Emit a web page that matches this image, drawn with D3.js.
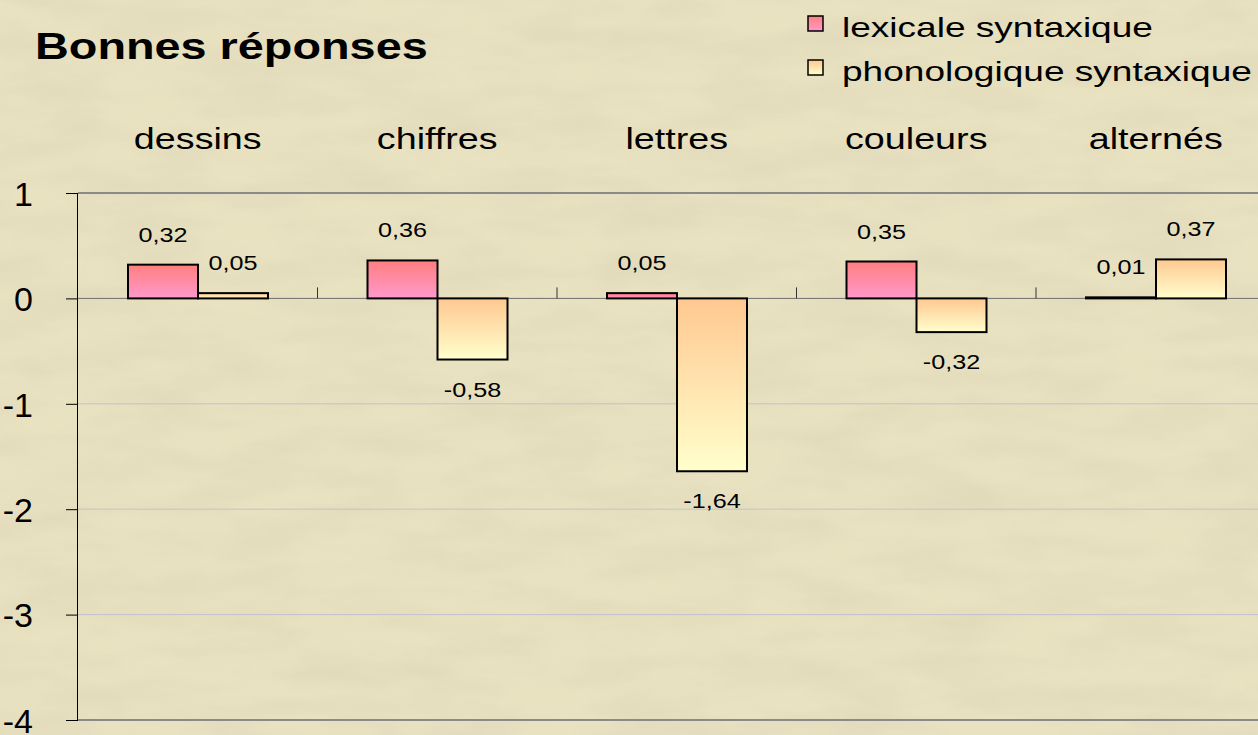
<!DOCTYPE html>
<html>
<head>
<meta charset="utf-8">
<script src="https://cdn.jsdelivr.net/npm/d3@7"></script>
<style>
  body { margin: 0; overflow: hidden; }
  svg { display: block; font-family: "Liberation Sans", Arial, sans-serif; }
</style>
</head>
<body>
<svg id="chart" width="1258" height="735"></svg>
<script>
'use strict';

// data
var categories = ['dessins', 'chiffres', 'lettres', 'couleurs', 'alternés'];
var seriesNames = ['lexicale syntaxique', 'phonologique syntaxique'];
var lexicale = [0.32, 0.36, 0.05, 0.35, 0.01];
var phonologique = [0.05, -0.58, -1.64, -0.32, 0.37];
var yTicks = [1, 0, -1, -2, -3, -4];

var svg = d3.select('#chart');
var W = 1258, H = 735;
var plotLeft = 78, plotTop = 193, plotBottom = 720;
var bandW = 239.5;
var stretchK = 1.3; // the slide is stretched sideways, text too

// move x/y into a transform so the text can be widened
function stretch(sel, k) {
  sel.each(function () {
    var t = d3.select(this);
    var tx = +t.attr('x') || 0, ty = +t.attr('y') || 0;
    t.attr('x', 0).attr('y', 0).attr('transform', 'translate(' + tx + ',' + ty + ') scale(' + k + ',1)');
  });
}

// background parchment
var defs = svg.append('defs');
var filt = defs.append('filter').attr('id', 'paper').attr('x', 0).attr('y', 0).attr('width', '100%').attr('height', '100%');
filt.append('feTurbulence').attr('type', 'fractalNoise').attr('baseFrequency', '0.01 0.035').attr('numOctaves', 4).attr('seed', 7).attr('result', 'n');
filt.append('feColorMatrix').attr('in', 'n').attr('type', 'matrix')
  .attr('values', '0 0 0 0 0.6  0 0 0 0 0.55  0 0 0 0 0.4  0 0 0 1.1 -0.35');
svg.append('rect').attr('width', W).attr('height', H).attr('fill', '#e9e2c1');
svg.append('rect').attr('width', W).attr('height', H).attr('filter', 'url(#paper)').attr('opacity', 0.4);

var gradients = [
  { id: 'gLex', top: '#ff7f7f', bottom: '#ff99cc' },
  { id: 'gPho', top: '#ffc891', bottom: '#ffffcc' }
];
gradients.forEach(function (g) {
  var lg = defs.append('linearGradient').attr('id', g.id).attr('x1', 0).attr('y1', 0).attr('x2', 0).attr('y2', 1);
  lg.append('stop').attr('offset', '0%').attr('stop-color', g.top);
  lg.append('stop').attr('offset', '100%').attr('stop-color', g.bottom);
});

var x = d3.scaleBand().domain(categories).range([plotLeft, plotLeft + bandW * categories.length]).paddingInner(0).paddingOuter(0);
var xs = d3.scaleBand().domain(seriesNames).range([50, bandW - 49.5]);
var y = d3.scaleLinear().domain([-4, 1]).range([plotBottom, plotTop]);

// gridlines
svg.append('g').selectAll('line').data(yTicks).enter().append('line')
  .attr('x1', plotLeft).attr('x2', W)
  .attr('y1', function (d) { return y(d); }).attr('y2', function (d) { return y(d); })
  .attr('stroke', function (d) { return (d === 1 || d === -4) ? '#8a8a8a' : (d === 0 ? '#6e6e6e' : '#c2c2cc'); })
  .attr('stroke-width', function (d) { return (d === 1 || d === -4) ? 2 : 1; });

// y axis
var yAxis = d3.axisLeft(y).tickValues(yTicks).tickSize(12).tickPadding(33).tickFormat(d3.format('d'));
var ga = svg.append('g').attr('transform', 'translate(' + plotLeft + ',0)').call(yAxis);
ga.select('.domain').attr('stroke', '#000').attr('d', 'M-0.5,' + plotTop + 'V' + plotBottom);
ga.selectAll('.tick line').attr('stroke', '#000');
ga.selectAll('.tick text').attr('font-size', 34).attr('fill', '#000').attr('font-family', '"Liberation Sans", Arial, sans-serif')
  .attr('dy', '0.36em')
  .text(function (d) { return d < 0 ? '-' + Math.abs(d) : d; });

// category ticks on zero line
svg.append('g').selectAll('line').data(categories.slice(1)).enter().append('line')
  .attr('x1', function (d) { return x(d); }).attr('x2', function (d) { return x(d); })
  .attr('y1', y(0) - 11).attr('y2', y(0))
  .attr('stroke', '#333').attr('stroke-width', 1);

// category labels on top
var catText = svg.append('g').selectAll('text').data(categories).enter().append('text')
  .attr('x', function (d) { return x(d) + x.bandwidth() / 2; })
  .attr('y', 149)
  .attr('text-anchor', 'middle').attr('font-size', 29).attr('fill', '#000')
  .text(function (d) { return d; });
stretch(catText, stretchK);

// bars
var series = [
  { name: seriesNames[0], values: lexicale, fill: 'url(#gLex)' },
  { name: seriesNames[1], values: phonologique, fill: 'url(#gPho)' }
];
var fmt = function (v) { return d3.format('.2f')(v).replace('.', ',').replace('\u2212', '-'); };

series.forEach(function (s) {
  var g = svg.append('g');
  g.selectAll('rect').data(s.values).enter().append('rect')
    .attr('x', function (d, i) { return x(categories[i]) + xs(s.name); })
    .attr('width', xs.bandwidth())
    .attr('y', function (d) { return y(Math.max(0, d)); })
    .attr('height', function (d) { return Math.abs(y(d) - y(0)); })
    .attr('fill', s.fill).attr('stroke', '#000').attr('stroke-width', 2);
  var lbl = g.selectAll('text').data(s.values).enter().append('text')
    .attr('x', function (d, i) { return x(categories[i]) + xs(s.name) + xs.bandwidth() / 2; })
    .attr('y', function (d) { return d >= 0 ? y(d) - 23 : y(d) + 37; })
    .attr('text-anchor', 'middle').attr('font-size', 21).attr('fill', '#000')
    .text(function (d) { return fmt(d); });
  stretch(lbl, 1.2);
});

// title
var title = svg.append('text').attr('x', 35).attr('y', 59).attr('font-size', 36).attr('font-weight', 'bold').attr('fill', '#000')
  .text('Bonnes réponses');
stretch(title, stretchK);

// legend
var lg = svg.append('g');
seriesNames.forEach(function (n, i) {
  lg.append('rect').attr('x', 808).attr('y', 16 + i * 44).attr('width', 15).attr('height', 15)
    .attr('fill', series[i].fill).attr('stroke', '#000').attr('stroke-width', 1.5);
  var t = lg.append('text').attr('x', 842).attr('y', 37 + i * 44).attr('font-size', 28.5).attr('fill', '#000').text(n);
  stretch(t, stretchK);
});
</script>
</body>
</html>
